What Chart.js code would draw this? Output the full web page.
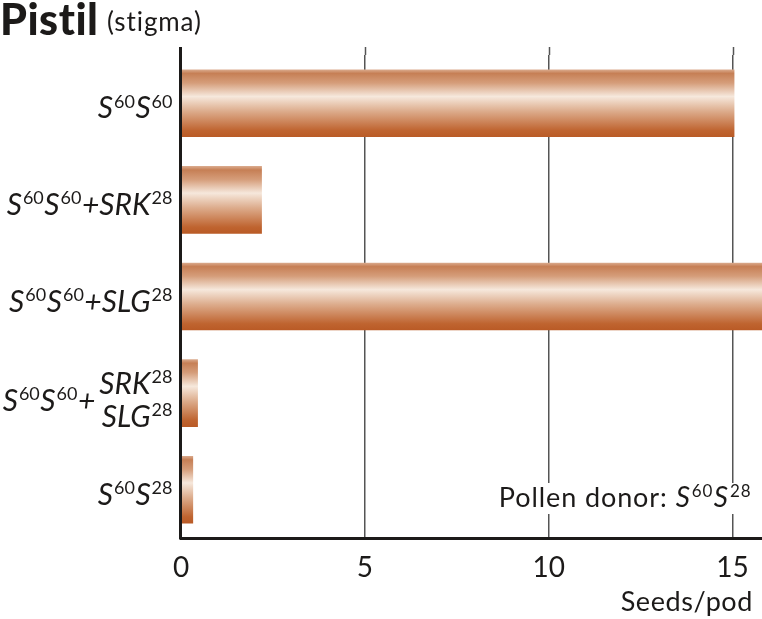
<!DOCTYPE html>
<html>
<head>
<meta charset="utf-8">
<script src="https://cdn.jsdelivr.net/npm/chart.js@4.4.0/dist/chart.umd.min.js"></script>
<style>
  html, body { margin: 0; padding: 0; background: #fff; }
  #wrap { position: relative; width: 762px; height: 619px; }
</style>
</head>
<body>
<div id="wrap"><canvas id="chartCanvas" width="762" height="619"></canvas></div>
<script>
// labels use ^{..} for superscripts, "/" stacks the part after "+"
const categories = [
  "S^{60}S^{60}",
  "S^{60}S^{60}+SRK^{28}",
  "S^{60}S^{60}+SLG^{28}",
  "S^{60}S^{60}+SRK^{28}/SLG^{28}",
  "S^{60}S^{28}",
];
const seedsPerPod = [15.05, 2.2, 15.8, 0.46, 0.33];
const xTicks = [0, 5, 10, 15];
const xMax = 15.8;
const titleMain = "Pistil";
const titleSub = "(stigma)";
const xAxisTitle = "Seeds/pod";
const donorLabel = "Pollen donor: ";
const donorGenotype = "S^{60}S^{28}";

const FONT = "Lato, 'Open Sans', sans-serif";
const INK = "#1c1a19";
const GRID = "#555";
const TOP_LINE = 47;

function parseRich(str) {
  const parts = [];
  const re = /\^\{([^}]*)\}|([^\^]+)/g;
  let m;
  while ((m = re.exec(str))) {
    if (m[1] !== undefined) parts.push({ text: m[1], sup: true });
    else parts.push({ text: m[2], sup: false });
  }
  return parts;
}

function partFont(p, size, italic) {
  const s = p.sup ? Math.round(size * 0.6) : size;
  // superscript digits are set upright, like the source
  return (italic && !p.sup ? "italic " : "") + s + "px " + FONT;
}

// draws right-aligned rich text, returns its left edge
function drawRich(ctx, str, xRight, baseline, size, italic) {
  const parts = parseRich(str);
  let w = 0;
  parts.forEach(p => {
    ctx.font = partFont(p, size, italic);
    p.w = ctx.measureText(p.text).width + (p.sup ? 1.5 : 0);
    w += p.w;
  });
  let x = xRight - w;
  const left = x;
  ctx.textAlign = "left";
  ctx.textBaseline = "alphabetic";
  parts.forEach(p => {
    ctx.font = partFont(p, size, italic);
    ctx.fillText(p.text, x + (p.sup ? 1 : 0), p.sup ? baseline - size * 0.36 : baseline);
    x += p.w;
  });
  return left;
}

function barGradient(context) {
  const chart = context.chart;
  const yScale = chart.scales.y;
  if (!yScale || context.dataIndex === undefined) return "#cf8a5e";
  const cy = yScale.getPixelForValue(context.dataIndex);
  if (!isFinite(cy)) return "#cf8a5e";
  const half = 34;
  const g = chart.ctx.createLinearGradient(0, cy - half, 0, cy + half);
  g.addColorStop(0, "#dcae92");
  g.addColorStop(0.06, "#c67f55");
  g.addColorStop(0.2, "#d59d7a");
  g.addColorStop(0.4, "#f6e8dc");
  g.addColorStop(0.62, "#dcab8b");
  g.addColorStop(0.9, "#bf6430");
  g.addColorStop(1, "#b95a25");
  return g;
}

const decorPlugin = {
  id: "decor",
  afterDatasetsDraw(chart) {
    const { ctx, chartArea, scales } = chart;
    ctx.save();
    // grid lines run a little above the plot
    ctx.strokeStyle = GRID;
    ctx.lineWidth = 1.5;
    xTicks.forEach(v => {
      if (v === 0) return;
      const px = Math.round(scales.x.getPixelForValue(v)) + 0.5;
      ctx.beginPath();
      ctx.moveTo(px, TOP_LINE);
      ctx.lineTo(px, chartArea.top);
      ctx.stroke();
    });
    // left axis line
    const x0 = scales.x.getPixelForValue(0) - 0.5;
    ctx.strokeStyle = INK;
    ctx.lineWidth = 3;
    ctx.beginPath();
    ctx.moveTo(x0, TOP_LINE);
    ctx.lineTo(x0, chartArea.bottom + 1.5);
    ctx.stroke();
    ctx.restore();
  },
  afterDraw(chart) {
    const { ctx, chartArea, scales } = chart;
    ctx.save();
    ctx.fillStyle = INK;

    // title
    ctx.textAlign = "left";
    ctx.textBaseline = "alphabetic";
    ctx.font = "900 43px " + FONT;
    ctx.letterSpacing = "0.5px";
    ctx.fillText(titleMain, 0, 35);
    ctx.font = "26px " + FONT;
    ctx.letterSpacing = "0.9px";
    ctx.fillText(titleSub, 107, 31);
    ctx.letterSpacing = "0px";

    // category labels
    const labelRight = chartArea.left - 8;
    categories.forEach((label, i) => {
      const cy = scales.y.getPixelForValue(i);
      const plus = label.indexOf("+");
      const extra = plus >= 0 ? label.slice(plus + 1) : "";
      if (extra.includes("/")) {
        const [upper, lower] = extra.split("/");
        const l1 = drawRich(ctx, upper, labelRight, cy + 1, 30, true);
        const l2 = drawRich(ctx, lower, labelRight, cy + 34, 30, true);
        drawRich(ctx, label.slice(0, plus + 1), Math.min(l1, l2) - 4, cy + 18, 30, true);
      } else {
        drawRich(ctx, label, labelRight, cy + 15, 30, true);
      }
    });

    // pollen donor note, on a white patch over the grid
    const noteRight = chartArea.right - 10;
    const noteBase = chartArea.bottom - 31;
    ctx.fillStyle = "#fff";
    ctx.fillRect(486, noteBase - 24, noteRight - 484, 31);
    ctx.fillStyle = INK;
    ctx.letterSpacing = "0.9px";
    const gl = drawRich(ctx, donorGenotype, noteRight, noteBase, 28, true);
    ctx.font = "27px " + FONT;
    ctx.textAlign = "right";
    ctx.fillText(donorLabel.trimEnd(), gl - 8, noteBase);

    // axis title
    ctx.font = "27px " + FONT;
    ctx.letterSpacing = "0.6px";
    ctx.textAlign = "right";
    ctx.fillText(xAxisTitle, 753, 611);
    ctx.restore();
  },
};

const canvas = document.getElementById("chartCanvas");
new Chart(canvas.getContext("2d"), {
  type: "bar",
  data: {
    labels: categories,
    datasets: [{
      data: seedsPerPod,
      backgroundColor: barGradient,
      borderWidth: 0,
      categoryPercentage: 1,
      barPercentage: 0.7,
    }],
  },
  options: {
    indexAxis: "y",
    responsive: false,
    animation: false,
    devicePixelRatio: 1,
    layout: { padding: { top: 55, left: 181, right: 0, bottom: 0 } },
    plugins: { legend: { display: false }, tooltip: { enabled: false } },
    scales: {
      x: {
        min: 0,
        max: xMax,
        afterFit: s => { s.height = 81; },
        afterBuildTicks: s => { s.ticks = xTicks.map(v => ({ value: v })); },
        grid: {
          color: c => (c.tick && c.tick.value === 0 ? "rgba(0,0,0,0)" : GRID),
          lineWidth: 1.5,
          drawTicks: false,
        },
        border: { color: INK, width: 3 },
        ticks: { color: INK, font: { family: FONT, size: 28 }, padding: 13, maxRotation: 0 },
      },
      y: { display: false },
    },
  },
  plugins: [decorPlugin],
});
</script>
</body>
</html>
